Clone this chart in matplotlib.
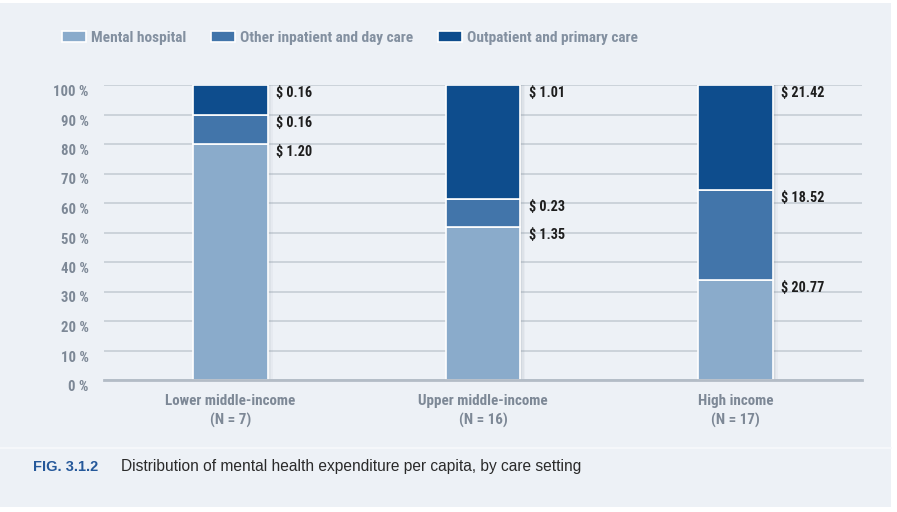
import matplotlib
matplotlib.use("Agg")
import matplotlib.pyplot as plt
from matplotlib.patches import Rectangle
import numpy as np

categories = ["Lower middle-income\n(N = 7)", "Upper middle-income\n(N = 16)", "High income\n(N = 17)"]
series_names = ["Mental hospital", "Other inpatient and day care", "Outpatient and primary care"]
# dollar values per capita (labels)
mental_hospital_usd = [1.20, 1.35, 20.77]
other_inpatient_usd = [0.16, 0.23, 18.52]
outpatient_usd = [0.16, 1.01, 21.42]
# share of expenditure, % (bar heights)
mental_hospital_pct = [80.0, 52.0, 34.0]
other_inpatient_pct = [10.0, 9.5, 30.5]
outpatient_pct = [10.0, 38.5, 35.5]
y_ticks = [0, 10, 20, 30, 40, 50, 60, 70, 80, 90, 100]
caption_tag = "FIG. 3.1.2"
caption_text = "Distribution of mental health expenditure per capita, by care setting"

colors = ["#8aabcb", "#4275aa", "#0e4d8d"]
panel_bg = "#edf1f6"
grey_txt = "#7d8896"
narrow = ["Roboto Condensed", "PT Sans Narrow", "DejaVu Sans"]
regular = ["Liberation Sans", "DejaVu Sans"]

fig = plt.figure(figsize=(8.97, 5.12), dpi=100)
fig.patch.set_facecolor("white")
fig.patches.append(Rectangle((0, 1 - 507 / 512), 891 / 897, 504 / 512,
                             transform=fig.transFigure, facecolor=panel_bg,
                             edgecolor="none", zorder=-10))
fig.lines.append(plt.Line2D([0, 891 / 897], [1 - 448 / 512] * 2, transform=fig.transFigure,
                            color="#f7f9fb", lw=1.2))

ax = fig.add_axes([104 / 897, 1 - 380 / 512, (862 - 104) / 897, (380 - 85) / 512])
ax.set_facecolor("none")

usd = np.array([mental_hospital_usd, other_inpatient_usd, outpatient_usd])
pct = np.array([mental_hospital_pct, other_inpatient_pct, outpatient_pct])
x = np.arange(len(categories))
width = 0.296

# soft shadow on the right of each bar
bottom = np.zeros(len(categories))
for k in range(3):
    for s, a in [(0.02, 0.05), (0.013, 0.07), (0.007, 0.09)]:
        ax.bar(x + s, pct[k], width, bottom=bottom, color="#6b7a8c", alpha=a,
               edgecolor="none", zorder=2)
    bottom += pct[k]

bottom = np.zeros(len(categories))
for k in range(3):
    ax.bar(x, pct[k], width, bottom=bottom, color=colors[k], edgecolor="white",
           linewidth=1.2, zorder=3, label=series_names[k])
    tops = bottom + pct[k]
    for i in range(len(categories)):
        ax.annotate(f"$ {usd[k][i]:.2f}", (x[i] + width / 2, tops[i]),
                    xytext=(6, -1), textcoords="offset points", ha="left", va="top",
                    fontsize=10.3, fontweight="bold", color="#1e1e1e", family=narrow, zorder=5)
    bottom = tops

ax.set_xlim(-0.5, 2.5)
ax.set_ylim(0, 100)
ax.set_yticks(y_ticks)
ax.set_yticklabels([f"{t} %" for t in y_ticks], family=narrow, fontsize=10.6,
                   fontweight="bold", color=grey_txt)
ax.set_xticks(x)
ax.set_xticklabels(categories, family=narrow, fontsize=10.8, fontweight="bold", color=grey_txt,
                   linespacing=1.4)
ax.tick_params(axis="y", length=0, pad=11)
ax.tick_params(axis="x", length=0, pad=10)
for lab in ax.get_yticklabels():
    lab.set_va("top")
for sp in ["top", "right", "left"]:
    ax.spines[sp].set_visible(False)
ax.spines["bottom"].set_color("#b3bcc6")
ax.spines["bottom"].set_linewidth(2)
ax.spines["bottom"].set_zorder(4)
ax.yaxis.grid(True, color="#c9d0d8", linewidth=1.3, zorder=0)
ax.set_axisbelow(True)

handles, labels = ax.get_legend_handles_labels()
leg = fig.legend(handles, labels, loc="center left", bbox_to_anchor=(62 / 897, 1 - 38 / 512),
                 ncol=3, frameon=False, handlelength=1.55, handleheight=0.7,
                 handletextpad=0.33, columnspacing=1.6, borderpad=0, borderaxespad=0,
                 prop={"family": narrow, "size": 11.1, "weight": "bold"})
for t in leg.get_texts():
    t.set_color("#8390a0")

fig.text(33 / 897, 1 - 467 / 512, caption_tag, family=regular, fontsize=10.5,
         fontweight="bold", color="#25589a", va="center", ha="left")
fig.text(121 / 897, 1 - 467 / 512, caption_text, family=regular, fontsize=11.2,
         color="#2a2a2a", va="center", ha="left")

fig.savefig("out.png", dpi=100, facecolor=fig.get_facecolor())
